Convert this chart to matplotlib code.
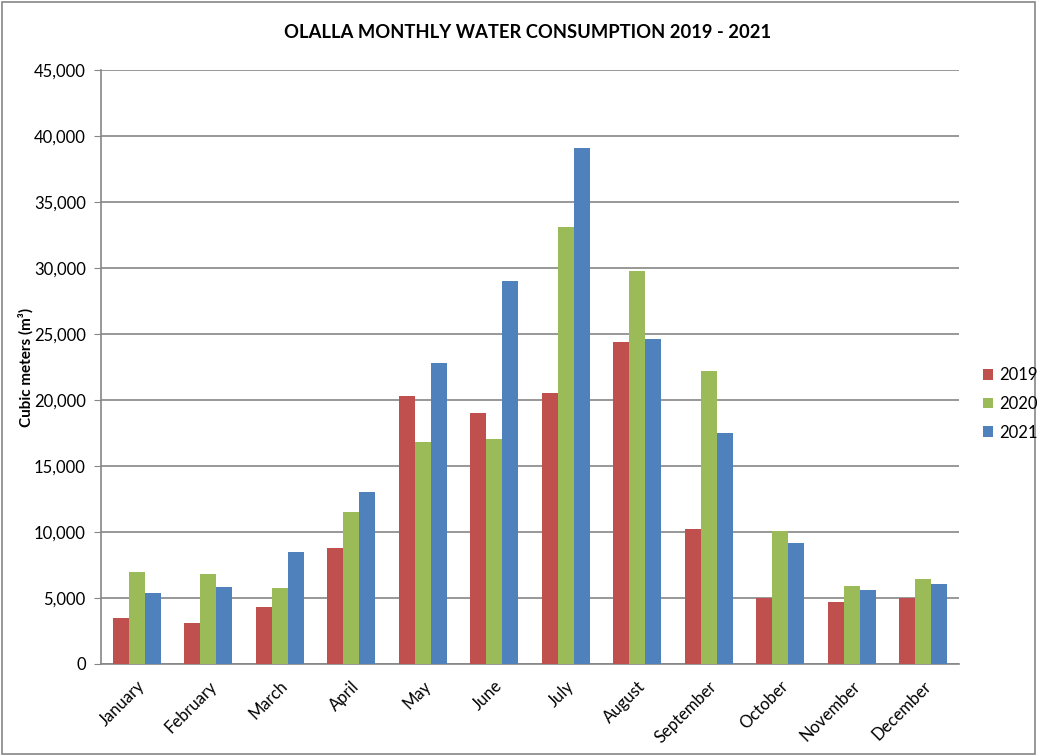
import matplotlib
matplotlib.use("Agg")
import matplotlib.pyplot as plt
import numpy as np
from matplotlib.ticker import FuncFormatter
from matplotlib.patches import Rectangle

months = ["January", "February", "March", "April", "May", "June", "July",
          "August", "September", "October", "November", "December"]
years = ["2019", "2020", "2021"]
v2019 = [3500, 3080, 4340, 8790, 20330, 18990, 20500, 24390, 10200, 4970, 4720, 4970]
v2020 = [6970, 6800, 5780, 11500, 16840, 17020, 33130, 29770, 22200, 10080, 5910, 6410]
v2021 = [5400, 5830, 8510, 13030, 22780, 29020, 39070, 24620, 17470, 9140, 5630, 6060]
colors = ["#C0504D", "#9BBB59", "#4F81BD"]

plt.rcParams['font.family'] = ['Lato', 'DejaVu Sans']

fig = plt.figure(figsize=(10.37, 7.56), dpi=100)
W, H = 1037, 756
ax = fig.add_axes([101 / W, 1 - 664 / H, (959 - 101) / W, (664 - 70) / H])

x = np.arange(len(months))
bw = 0.224
for i, (vals, c, lab) in enumerate(zip([v2019, v2020, v2021], colors, years)):
    ax.bar(x + (i - 1) * bw, vals, width=bw, color=c, label=lab, zorder=3,
           edgecolor='none')

ax.set_xlim(-0.5, 11.5)
ax.set_ylim(0, 45000)
ax.set_yticks(np.arange(0, 45001, 5000))
ax.yaxis.set_major_formatter(FuncFormatter(lambda v, p: f"{int(v):,}"))
ax.grid(axis='y', color='#868686', linewidth=1.2, zorder=0)
ax.set_axisbelow(True)
for s in ['top', 'right']:
    ax.spines[s].set_visible(False)
for s in ['left', 'bottom']:
    ax.spines[s].set_color('#868686')
    ax.spines[s].set_linewidth(1.2)
ax.tick_params(axis='y', length=5, color='#868686', labelsize=12, pad=6)
ax.tick_params(axis='x', length=0, labelsize=12, pad=10)
ax.set_xticks(x)
ax.set_xticklabels(months, rotation=45, ha='right', rotation_mode='anchor')

ax.set_ylabel("Cubic meters (m³)", fontsize=11, fontweight='bold')
ax.yaxis.set_label_coords(-0.078, 0.5)

fig.text(0.5 * (101 + 959) / W - 2 / W, 1 - 33 / H, "OLALLA MONTHLY WATER CONSUMPTION 2019 - 2021",
         ha='center', va='center', fontsize=13.2, fontweight='bold')

leg = fig.legend(loc='center left', bbox_to_anchor=(983 / W, 1 - 404 / H),
                 frameon=False, fontsize=12, handlelength=0.6, handleheight=0.6,
                 labelspacing=0.75, handletextpad=0.4, borderpad=0, borderaxespad=0)

fig.patches.append(Rectangle((2 / W, 2 / H), 1 - 4 / W, 1 - 4 / H, transform=fig.transFigure,
                             fill=False, edgecolor='#868686', linewidth=1.2))

fig.savefig("out.png", dpi=100)
